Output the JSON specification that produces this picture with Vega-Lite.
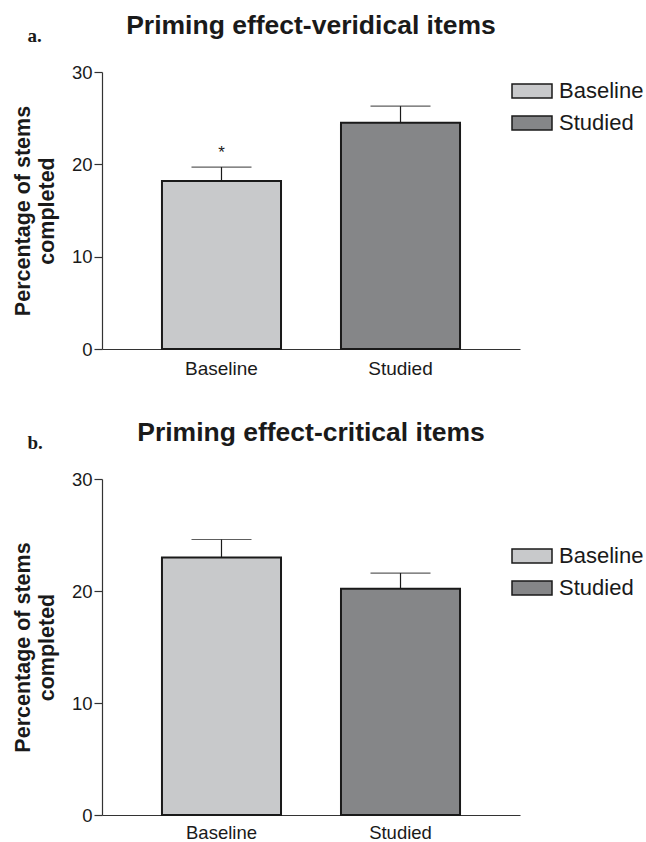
{
  "$schema": "https://vega.github.io/schema/vega-lite/v6.json",
  "padding": {"left": 12, "top": 12, "right": 0, "bottom": 0},
  "background": "white",
  "config": {
    "view": {"stroke": null},
    "font": "Liberation Sans",
    "axis": {"labelFont": "Liberation Sans", "titleFont": "Liberation Sans", "labelColor": "#1a1a1a", "titleColor": "#1a1a1a", "domainColor": "#333333", "tickColor": "#333333", "grid": false, "domainWidth": 1.2, "tickWidth": 1.2},
    "legend": {"labelFont": "Liberation Sans", "labelFontSize": 22, "labelColor": "#1a1a1a", "symbolType": "M-1,-0.35H1V0.35H-1Z", "symbolSize": 1600, "symbolStrokeColor": "#1a1a1a", "symbolStrokeWidth": 1.5, "symbolOpacity": 1, "labelOffset": 6, "rowPadding": -3, "padding": 0, "title": null}
  },
  "data": {"values": [
    {"panel": "a", "condition": "Baseline", "mean": 18.2, "upper": 19.7, "star": "*", "star_y": 21.2},
    {"panel": "a", "condition": "Studied", "mean": 24.5, "upper": 26.3, "star": "", "star_y": null},
    {"panel": "b", "condition": "Baseline", "mean": 23.0, "upper": 24.6, "star": "", "star_y": null},
    {"panel": "b", "condition": "Studied", "mean": 20.2, "upper": 21.6, "star": "", "star_y": null}
  ]},
  "spacing": 41,
  "resolve": {"scale": {"color": "independent"}, "legend": {"color": "independent"}},
  "vconcat": [
    {
      "title": {"text": "a.", "anchor": "start", "frame": "bounds", "font": "Liberation Serif", "fontWeight": "bold", "fontSize": 19, "color": "#1a1a1a", "dx": 15, "dy": 37},
      "vconcat": [
        {
          "title": {"text": "Priming effect-veridical items", "anchor": "middle", "frame": "group", "font": "Liberation Sans", "fontWeight": "bold", "fontSize": 26.5, "color": "#1a1a1a", "offset": 24},
          "width": 418,
          "height": 277,
          "transform": [{"filter": "datum.panel == 'a'"}],
          "encoding": {
            "x": {"field": "condition", "type": "nominal", "sort": ["Baseline", "Studied"], "scale": {"paddingInner": 0.335, "paddingOuter": 0.335}, "axis": {"title": null, "labelAngle": 0, "ticks": false, "labelFontSize": 19, "labelPadding": 10}}
          },
          "layer": [
            {
              "mark": {"type": "bar", "stroke": "#1a1a1a", "strokeWidth": 2},
              "encoding": {
                "y": {"field": "mean", "type": "quantitative", "scale": {"domain": [0, 30]}, "axis": {"values": [0, 10, 20, 30], "tickSize": 8, "labelFontSize": 18.5, "labelPadding": 2, "title": ["Percentage of stems", "completed"], "titleFontSize": 21.5, "titleFontWeight": "bold", "titlePadding": 13, "titleLineHeight": 24}},
                "color": {"field": "condition", "type": "nominal", "scale": {"domain": ["Baseline", "Studied"], "range": ["#c8c9cb", "#858688"]}, "legend": {"orient": "none", "legendX": 409, "legendY": -2}}
              }
            },
            {
              "mark": {"type": "rule", "color": "#1a1a1a", "strokeWidth": 1.2},
              "encoding": {"y": {"field": "mean", "type": "quantitative"}, "y2": {"field": "upper"}}
            },
            {
              "mark": {"type": "tick", "color": "#1a1a1a", "size": 60, "thickness": 1.2},
              "encoding": {"y": {"field": "upper", "type": "quantitative"}}
            },
            {
              "transform": [{"filter": "datum.star != ''"}],
              "mark": {"type": "text", "fontSize": 17, "color": "#1a1a1a", "baseline": "middle"},
              "encoding": {"y": {"field": "star_y", "type": "quantitative"}, "text": {"field": "star"}}
            }
          ]
        }
      ]
    },
    {
      "title": {"text": "b.", "anchor": "start", "frame": "bounds", "font": "Liberation Serif", "fontWeight": "bold", "fontSize": 19, "color": "#1a1a1a", "dx": 15, "dy": 37},
      "vconcat": [
        {
          "title": {"text": "Priming effect-critical items", "anchor": "middle", "frame": "group", "font": "Liberation Sans", "fontWeight": "bold", "fontSize": 26.5, "color": "#1a1a1a", "offset": 24},
          "width": 418,
          "height": 336,
          "transform": [{"filter": "datum.panel == 'b'"}],
          "encoding": {
            "x": {"field": "condition", "type": "nominal", "sort": ["Baseline", "Studied"], "scale": {"paddingInner": 0.335, "paddingOuter": 0.335}, "axis": {"title": null, "labelAngle": 0, "ticks": false, "labelFontSize": 18.5, "labelPadding": 8}}
          },
          "layer": [
            {
              "mark": {"type": "bar", "stroke": "#1a1a1a", "strokeWidth": 2},
              "encoding": {
                "y": {"field": "mean", "type": "quantitative", "scale": {"domain": [0, 30]}, "axis": {"values": [0, 10, 20, 30], "tickSize": 8, "labelFontSize": 18.5, "labelPadding": 2, "title": ["Percentage of stems", "completed"], "titleFontSize": 21.5, "titleFontWeight": "bold", "titlePadding": 13, "titleLineHeight": 24}},
                "color": {"field": "condition", "type": "nominal", "scale": {"domain": ["Baseline", "Studied"], "range": ["#c8c9cb", "#858688"]}, "legend": {"orient": "none", "legendX": 409, "legendY": 56}}
              }
            },
            {
              "mark": {"type": "rule", "color": "#1a1a1a", "strokeWidth": 1.2},
              "encoding": {"y": {"field": "mean", "type": "quantitative"}, "y2": {"field": "upper"}}
            },
            {
              "mark": {"type": "tick", "color": "#1a1a1a", "size": 60, "thickness": 1.2},
              "encoding": {"y": {"field": "upper", "type": "quantitative"}}
            }
          ]
        }
      ]
    }
  ]
}
